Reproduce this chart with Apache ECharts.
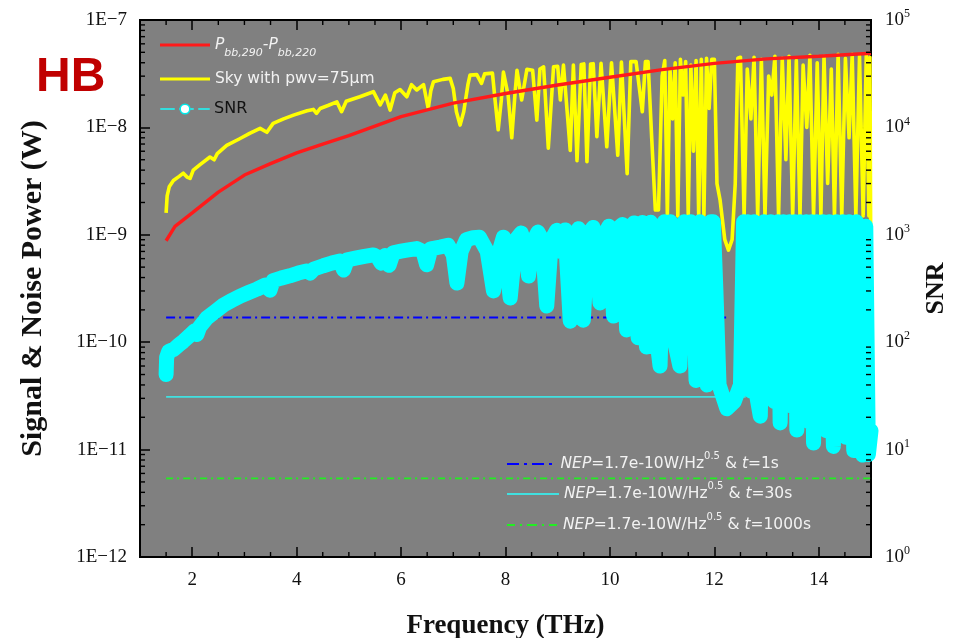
<!DOCTYPE html>
<html>
<head>
<meta charset="utf-8">
<script src="https://cdn.jsdelivr.net/npm/echarts@6/dist/echarts.min.js"></script>
<style>
  html, body { margin: 0; background: #fff; }
  #c { width: 958px; height: 638px; }
</style>
</head>
<body>
<div id="c"></div>
<script>
// === Datos ===
// diferencia de cuerpo negro P_bb,290 - P_bb,220 (W)
const redFreq  = [1.5, 1.67, 2.0, 2.5, 3.0, 3.5, 4.0, 4.5, 5.0, 6.0, 7.0, 8.0, 9.0, 10.0, 11.0, 12.0, 13.0, 14.0, 15.0];
const redPower = [8.8e-10, 1.2e-9, 1.6e-9, 2.5e-9, 3.6e-9, 4.6e-9, 5.8e-9, 7.0e-9, 8.4e-9, 1.26e-8, 1.68e-8, 2.07e-8, 2.48e-8, 2.93e-8, 3.45e-8, 3.95e-8, 4.35e-8, 4.6e-8, 4.9e-8];

// cielo con pwv = 75 um (W)
const skyFreq = [
  1.50, 1.52, 1.56, 1.64, 1.75, 1.83, 1.90, 1.96, 2.02, 2.15, 2.34, 2.42, 2.48, 2.66, 2.90, 3.10, 3.30, 3.43, 3.55, 3.75,
  3.94, 4.20, 4.32, 4.38, 4.45, 4.60, 4.77, 4.86, 4.95, 5.21, 5.47, 5.60, 5.70, 5.79, 5.88, 5.98, 6.11, 6.20, 6.30, 6.43,
  6.47, 6.52, 6.57, 6.62, 6.80, 6.94, 7.00, 7.06, 7.13, 7.20, 7.28, 7.32, 7.45, 7.54, 7.60, 7.75, 7.80, 7.86, 7.92, 7.96,
  8.05, 8.12, 8.18, 8.22, 8.31, 8.41, 8.52, 8.60, 8.66, 8.73, 8.82, 8.92, 9.00, 9.05, 9.11, 9.24, 9.30, 9.37, 9.45, 9.50,
  9.56, 9.63, 9.68, 9.75, 9.83, 9.94, 10.03, 10.15, 10.22, 10.33, 10.40, 10.50, 10.62, 10.68, 10.73, 10.80, 10.87, 10.93,
  11.00, 11.05, 11.10, 11.15, 11.20, 11.25, 11.30, 11.35, 11.40, 11.45, 11.50, 11.55, 11.60, 11.65, 11.70, 11.75, 11.80, 11.85, 11.90, 11.95,
  12.00, 12.05, 12.11, 12.20, 12.27, 12.34, 12.40, 12.45, 12.50, 12.57, 12.63, 12.70, 12.76, 12.83, 12.90, 12.97, 13.04, 13.10, 13.16, 13.23,
  13.30, 13.37, 13.43, 13.50, 13.57, 13.64, 13.70, 13.77, 13.83, 13.90, 13.97, 14.04, 14.10, 14.17, 14.24, 14.30, 14.37, 14.44, 14.51, 14.58,
  14.64, 14.71, 14.78, 14.85, 14.91, 14.96, 14.98, 15.00
];
const skyPower = [
  1.6e-9, 2.3e-9, 2.8e-9, 3.2e-9, 3.5e-9, 3.75e-9, 3.45e-9, 3.35e-9, 4.0e-9, 4.5e-9, 5.3e-9, 5.0e-9, 5.7e-9, 6.8e-9, 7.8e-9, 8.8e-9, 9.8e-9, 9.0e-9, 1.09e-8, 1.2e-8,
  1.3e-8, 1.43e-8, 1.47e-8, 1.35e-8, 1.5e-8, 1.6e-8, 1.73e-8, 1.4e-8, 1.75e-8, 1.93e-8, 2.15e-8, 1.62e-8, 2.0e-8, 1.45e-8, 2.1e-8, 2.25e-8, 1.93e-8, 2.5e-8, 2.23e-8, 2.5e-8,
  2.0e-8, 1.5e-8, 2.2e-8, 2.66e-8, 2.8e-8, 2.86e-8, 2.3e-8, 1.4e-8, 1.05e-8, 1.4e-8, 2.5e-8, 3.07e-8, 3.1e-8, 2.57e-8, 3.15e-8, 3.2e-8, 1.8e-8, 9.5e-9, 1.8e-8, 3.27e-8,
  2.0e-8, 8.0e-9, 2.0e-8, 3.4e-8, 1.8e-8, 3.47e-8, 3.4e-8, 1.17e-8, 3.5e-8, 3.66e-8, 6.4e-9, 3.66e-8, 3.7e-8, 1.8e-8, 3.8e-8, 6.1e-9, 3.8e-8, 4.9e-9, 3.85e-8, 3.9e-8,
  4.8e-9, 3.9e-8, 3.92e-8, 8.2e-9, 3.95e-8, 6.6e-9, 4.0e-8, 5.5e-9, 4.05e-8, 3.7e-9, 4.1e-8, 4.1e-8, 1.4e-8, 4.1e-8, 4.1e-8, 8.0e-9, 1.7e-9, 1.7e-9,
  3.0e-8, 4.2e-8, 1.5e-9, 3.5e-8, 1.2e-8, 4.0e-8, 1.5e-9, 4.3e-8, 2.0e-8, 4.1e-8, 1.5e-9, 3.8e-8, 6.0e-9, 4.2e-8, 1.5e-9, 4.3e-8, 1.5e-9, 4.4e-8, 1.5e-8, 4.3e-8,
  4.3e-8, 3.0e-9, 2.1e-9, 9.0e-10, 7.2e-10, 9.0e-10, 3.0e-9, 4.4e-8, 4.5e-8, 1.5e-9, 3.5e-8, 1.2e-8, 4.5e-8, 1.5e-9, 4.3e-8, 1.5e-9, 3.0e-8, 2.0e-8, 4.6e-8, 1.5e-9,
  4.4e-8, 5.0e-9, 4.6e-8, 1.5e-9, 4.2e-8, 1.5e-9, 3.8e-8, 1.0e-8, 4.7e-8, 1.5e-9, 4.0e-8, 1.5e-9, 4.6e-8, 3.0e-9, 3.5e-8, 1.5e-9, 4.8e-8, 1.5e-9, 4.4e-8, 8.0e-9,
  4.8e-8, 1.5e-9, 4.6e-8, 1.5e-9, 4.8e-8, 1.5e-9, 4.5e-8, 2.0e-10
];

// SNR (eje derecho)
const snrFreq = [
  1.50, 1.51, 1.55, 1.65, 1.75, 1.83, 1.95, 2.05, 2.09, 2.14, 2.28, 2.45, 2.60, 2.76, 2.92, 3.08, 3.24, 3.40, 3.49, 3.55,
  3.70, 3.87, 4.03, 4.19, 4.26, 4.33, 4.51, 4.67, 4.83, 4.90, 4.97, 5.15, 5.30, 5.47, 5.55, 5.62, 5.69, 5.77, 5.85, 6.00,
  6.11, 6.30, 6.42, 6.49, 6.57, 6.75, 6.90, 7.00, 7.07, 7.15, 7.25, 7.38, 7.50, 7.65, 7.77, 7.88, 7.96, 8.09, 8.20, 8.30,
  8.38, 8.44, 8.52, 8.62, 8.70, 8.79, 8.88, 8.98, 9.06, 9.14, 9.24, 9.32, 9.40, 9.49, 9.58, 9.68, 9.74, 9.81, 9.89, 9.98,
  10.07, 10.16, 10.24, 10.32, 10.40, 10.46, 10.54, 10.62, 10.70, 10.78, 10.86, 10.96, 11.04, 11.10, 11.16, 11.24, 11.34, 11.42, 11.48, 11.55,
  11.65, 11.72, 11.79, 11.86, 11.93, 11.98, 12.03, 12.09, 12.24, 12.38, 12.50, 12.56, 12.60, 12.64, 12.70, 12.76, 12.82, 12.88, 12.95, 13.02,
  13.08, 13.15, 13.22, 13.26, 13.32, 13.38, 13.44, 13.50, 13.54, 13.58, 13.64, 13.70, 13.76, 13.82, 13.86, 13.90, 13.96, 14.02, 14.08, 14.14,
  14.20, 14.28, 14.34, 14.40, 14.46, 14.52, 14.58, 14.67, 14.72, 14.78, 14.84, 14.90, 14.95, 15.00
];
const snrValue = [
  50, 72, 82, 86, 95, 102, 115, 128, 118, 138, 168, 195, 222, 245, 269, 290, 312, 340, 305, 375,
  395, 415, 440, 460, 440, 480, 515, 545, 570, 470, 585, 610, 630, 650, 620, 545, 640, 520, 680, 705,
  720, 745, 700, 525, 740, 770, 800, 650, 356, 700, 900, 940, 950, 700, 300, 700, 950, 258, 900, 1040,
  800, 413, 850, 1060, 900, 217, 900, 1100, 700, 1110, 157, 1000, 1140, 160, 1000, 1170, 800, 232, 1000, 1200,
  175, 1150, 1250, 130, 900, 1290, 110, 1300, 90, 1310, 150, 60, 1320, 120, 1320, 100, 60, 1320, 90, 1320,
  44, 1320, 70, 40, 1320, 1320, 300, 40, 24, 28, 40, 1320, 50, 1320, 35, 1320, 30, 20.5, 1320, 35,
  1320, 28, 1320, 17.7, 1320, 30, 1320, 25, 1320, 15.2, 1320, 22, 1320, 18, 1320, 11.5, 1320, 17, 1320, 15,
  1320, 10.7, 1320, 14, 1320, 13, 1320, 9.8, 1320, 11, 8.9, 1200, 9, 15
];

// NEP horizontales: t = 1 s, 30 s, 1000 s
const nepNames = ['NEP1', 'NEP30', 'NEP1000'];
const nepPower = [1.7e-10, 3.1e-11, 5.4e-12];
const nepStart = [1.5, 1.5, 1.5];
const nepEnd   = [12.3, 12.6, 15.0];

// ticks menores
const xMinorTicks = [1.5, 2.5, 3, 3.5, 4.5, 5, 5.5, 6.5, 7, 7.5, 8.5, 9, 9.5, 10.5, 11, 11.5, 12.5, 13, 13.5, 14.5];
const logMantissas = [2, 3, 4, 5, 6, 7, 8, 9];
const logDecades = [-12, -11, -10, -9, -8];

// === Estilos ===
const X_MIN = 1, X_MAX = 15;
const serif = 'Liberation Serif';
const lgFont = 'DejaVu Sans';
const ink = '#111';
const tickStyle = { stroke: '#000', lineWidth: 1.4 };
const zip = (xs, ys) => xs.map((x, i) => [x, ys[i]]);

const yMinorTicks = [];
logDecades.forEach(e => logMantissas.forEach(m => yMinorTicks.push(m * Math.pow(10, e))));

const axisLine = { show: true, lineStyle: { color: '#000', width: 2 } };
const majorTick = { show: true, inside: true, length: 10, lineStyle: { color: '#000', width: 1.5 } };
const titleStyle = { fontFamily: serif, fontWeight: 'bold', color: ink };

// ticks menores dibujados con las escalas del grid
function minorTickSeries(data, vertical) {
  return {
    type: 'custom', silent: true, z: 20, clip: false,
    data: data,
    renderItem: (p, api) => {
      let a, b;
      if (vertical) { // ticks del eje x (abajo y arriba)
        a = api.coord([api.value(0), 1e-12]); b = api.coord([api.value(0), 1e-7]);
        return { type: 'group', children: [
          { type: 'line', shape: { x1: a[0], y1: a[1], x2: a[0], y2: a[1] - 5 }, style: tickStyle },
          { type: 'line', shape: { x1: b[0], y1: b[1], x2: b[0], y2: b[1] + 5 }, style: tickStyle }
        ]};
      }
      a = api.coord([X_MIN, api.value(1)]); b = api.coord([X_MAX, api.value(1)]);
      return { type: 'group', children: [
        { type: 'line', shape: { x1: a[0], y1: a[1], x2: a[0] + 5, y2: a[1] }, style: tickStyle },
        { type: 'line', shape: { x1: b[0] - 5, y1: b[1], x2: b[0], y2: b[1] }, style: tickStyle }
      ]};
    }
  };
}

// === Leyendas ===
const lgRichTop = {
  i: { fontFamily: lgFont, fontStyle: 'italic', fontSize: 15.5, color: '#f2f2f2', lineHeight: 28 },
  n: { fontFamily: lgFont, fontSize: 15.5, color: '#f2f2f2', lineHeight: 28 },
  s: { fontFamily: lgFont, fontStyle: 'italic', fontSize: 11, color: '#f2f2f2', lineHeight: 12, verticalAlign: 'bottom' },
  k: { fontFamily: lgFont, fontSize: 16, color: '#111', lineHeight: 28 }
};
const lgRichNep = {
  i: { fontFamily: lgFont, fontStyle: 'italic', fontSize: 15.5, color: '#f2f2f2', lineHeight: 26 },
  n: { fontFamily: lgFont, fontSize: 15.5, color: '#f2f2f2', lineHeight: 26 },
  p: { fontFamily: lgFont, fontSize: 10, color: '#f2f2f2', lineHeight: 10, verticalAlign: 'top' }
};
const nepLabel = t => '{i|NEP}{n|=1.7e-10W/Hz}{p|0.5}{n| & }{i|t}{n|=' + t + '}';

function oneLegend(item, text, rich, left, top, w, h, icon) {
  const d = typeof item === 'string' ? { name: item } : item;
  if (icon) d.icon = icon;
  return {
    show: true, left: left, top: top, padding: 0, itemGap: 0,
    itemWidth: w, itemHeight: h, selectedMode: false,
    data: [d], formatter: () => text, textStyle: { rich: rich }
  };
}

const legends = [
  oneLegend('Pdiff', '{i|P}{s|bb,290}{i|-P}{s|bb,220}', lgRichTop, 160, 37, 50, 3, 'rect'),
  oneLegend('Sky', '{n|Sky with pwv=75\u03bcm}', lgRichTop, 160, 71, 50, 3, 'rect'),
  oneLegend({ name: 'SNR', itemStyle: { color: '#ffffff', borderColor: '#00e8e8', borderWidth: 1.5 },
              lineStyle: { color: '#33dddd', width: 2, type: [13, 6] } },
            '{k|SNR}', lgRichTop, 160, 101, 48, 12),
  oneLegend('NEP1', nepLabel('1s'), lgRichNep, 507, 451, 52, 2,
            'path://M0,0h12v2h-12z M17,0h3v2h-3z M25,0h12v2h-12z M42,0h3v2h-3z'),
  oneLegend('NEP30', nepLabel('30s'), lgRichNep, 507, 481, 52, 2, 'rect'),
  oneLegend('NEP1000', nepLabel('1000s'), lgRichNep, 507, 512, 52, 2,
            'path://M0,0h8v2h-8z M13,0h2v2h-2z M20,0h10v2h-10z M35,0h2v2h-2z M42,0h8v2h-8z')
];

// === Series ===
const nepColors = ['#0000ff', '#40e0e0', '#22ee22'];
const nepDash = [[9, 4, 2, 4], 'solid', [7, 4, 2, 4]];
const nepWidth = [2, 1.6, 1.8];
const nepSeries = nepNames.map((n, i) => ({
  name: n, type: 'line', symbol: 'none', silent: true, color: nepColors[i],
  lineStyle: { color: nepColors[i], width: nepWidth[i], type: nepDash[i] },
  data: [[nepStart[i], nepPower[i]], [nepEnd[i], nepPower[i]]]
}));

const option = {
  animation: false,
  backgroundColor: '#fff',
  title: {
    text: 'HB', left: 36, top: 54, padding: 0,
    textStyle: { color: '#c00000', fontSize: 48, fontWeight: 'bold', fontFamily: 'Liberation Sans' }
  },
  legend: legends,
  grid: {
    left: 140, right: 87, top: 20, bottom: 81, outerBoundsMode: 'none',
    show: true, backgroundColor: '#808080', borderColor: '#000', borderWidth: 2
  },
  xAxis: [
    {
      type: 'value', min: X_MIN, max: X_MAX, splitNumber: 7,
      axisLine: axisLine, axisTick: majorTick, splitLine: { show: false },
      axisLabel: { margin: 14, fontFamily: serif, fontSize: 19, color: ink, showMinLabel: false, showMaxLabel: false },
      name: 'Frequency (THz)', nameLocation: 'middle', nameGap: 56,
      nameTextStyle: { ...titleStyle, fontSize: 27 }
    },
    {
      type: 'value', position: 'top', min: X_MIN, max: X_MAX, splitNumber: 7,
      axisLine: axisLine, axisTick: majorTick, splitLine: { show: false }, axisLabel: { show: false }
    }
  ],
  yAxis: [
    {
      type: 'log', logBase: 10, min: 1e-12, max: 1e-7, position: 'left',
      axisLine: axisLine, axisTick: majorTick, splitLine: { show: false },
      axisLabel: { margin: 13, fontFamily: serif, fontSize: 19, color: ink,
        formatter: v => '1E\u2212' + Math.round(-Math.log10(v)) },
      name: 'Signal & Noise Power (W)', nameLocation: 'middle', nameGap: 92,
      nameTextStyle: { ...titleStyle, fontSize: 30 }
    },
    {
      type: 'log', logBase: 10, min: 1, max: 1e5, position: 'right',
      axisLine: axisLine, axisTick: majorTick, splitLine: { show: false },
      axisLabel: { margin: 14, color: ink,
        formatter: v => '{b|10}{s|' + Math.round(Math.log10(v)) + '}',
        rich: {
          b: { fontFamily: serif, fontSize: 19, color: ink, lineHeight: 24 },
          s: { fontFamily: serif, fontSize: 12, color: ink, lineHeight: 10, verticalAlign: 'top' }
        }
      },
      name: 'SNR', nameLocation: 'middle', nameGap: 52,
      nameTextStyle: { ...titleStyle, fontSize: 26 }
    }
  ],
  series: [
    ...nepSeries,
    {
      name: 'Sky', type: 'line', symbol: 'none', silent: true, color: '#ffff00',
      lineStyle: { color: '#ffff00', width: 3.6, join: 'round' },
      data: zip(skyFreq, skyPower)
    },
    {
      name: 'Pdiff', type: 'line', symbol: 'none', silent: true, color: '#ff1a1a',
      lineStyle: { color: '#ff1a1a', width: 3.4 },
      data: zip(redFreq, redPower)
    },
    {
      name: 'SNR', type: 'line', yAxisIndex: 1, symbol: 'circle', showSymbol: false, silent: true, color: '#00ffff',
      lineStyle: { color: '#00ffff', width: 15, cap: 'round', join: 'round' },
      data: zip(snrFreq, snrValue)
    },
    minorTickSeries(yMinorTicks.map(v => [X_MIN, v]), false),
    minorTickSeries(xMinorTicks.map(x => [x, 1e-12]), true)
  ]
};

const chart = echarts.init(document.getElementById('c'));
chart.setOption(option);
</script>
</body>
</html>
